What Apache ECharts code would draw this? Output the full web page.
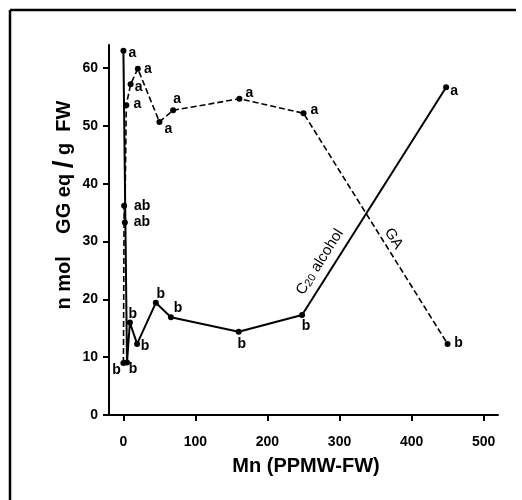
<!DOCTYPE html>
<html>
<head>
<meta charset="utf-8">
<script src="https://cdn.jsdelivr.net/npm/echarts@6/dist/echarts.min.js"></script>
<style>html,body{margin:0;padding:0;background:#fff}#c{width:522px;height:500px}</style>
</head>
<body>
<div id="c"></div>
<script>
// ---- data ----
var gaX = [0, 1, 2, 4, 10, 20, 50, 69, 161, 250, 450];
var gaY = [9.0, 36.2, 33.3, 53.6, 57.2, 59.9, 50.7, 52.7, 54.7, 52.2, 12.3];
var gaLetters = ['b', 'ab', 'ab', 'a', 'a', 'a', 'a', 'a', 'a', 'a', 'b'];

var c20X = [0, 5, 9, 19, 45, 66, 160, 248, 448];
var c20Y = [63.0, 9.1, 16.0, 12.3, 19.4, 16.9, 14.4, 17.3, 56.7];
var c20Letters = ['a', 'b', 'b', 'b', 'b', 'b', 'b', 'b', 'a'];

var xTicks = [0, 100, 200, 300, 400, 500];
var yTicks = [0, 10, 20, 30, 40, 50, 60];

// label offsets (layout only)
var gaLabelOff = [[-7,7],[18,0],[17,0],[11,-1],[8,3],[10,0],[9,7],[4,-11],[10,-6],[11,-3],[11,-1]];
var c20LabelOff = [[9,2],[6,7],[3,-8],[8,2],[5,-9],[7,-9],[3,12],[4,11],[8,4]];

var FONT = '"Liberation Sans", Arial, Helvetica, sans-serif';

function buildData(xs, ys, letters, offs) {
  return xs.map(function (x, i) {
    return {
      value: [x, ys[i]],
      label: { show: true, formatter: letters[i], position: 'inside', offset: offs[i],
               align: 'center', verticalAlign: 'middle' }
    };
  });
}

var chart = echarts.init(document.getElementById('c'), null, { renderer: 'canvas' });

var labelStyle = { color: '#000', fontFamily: FONT, fontWeight: 'bold', fontSize: 14 };

chart.setOption({
  animation: false,
  backgroundColor: '#fff',
  grid: { left: 109, right: 24, top: 45, bottom: 85, containLabel: false },
  xAxis: {
    type: 'value', min: -20, max: 520,
    splitLine: { show: false },
    axisLine: { show: true, onZero: false, lineStyle: { color: '#000', width: 2 } },
    axisTick: { show: true, customValues: xTicks, length: 6, lineStyle: { color: '#000', width: 2 } },
    axisLabel: { customValues: xTicks, margin: 20, color: '#000', fontFamily: FONT, fontWeight: 'bold', fontSize: 14 }
  },
  yAxis: {
    type: 'value', min: 0, max: 64,
    splitLine: { show: false },
    axisLine: { show: true, onZero: false, lineStyle: { color: '#000', width: 2 } },
    axisTick: { show: true, customValues: yTicks, length: 6, lineStyle: { color: '#000', width: 2 } },
    axisLabel: { customValues: yTicks, margin: 11, color: '#000', fontFamily: FONT, fontWeight: 'bold', fontSize: 14 }
  },
  series: [
    {
      name: 'GA', type: 'line',
      data: buildData(gaX, gaY, gaLetters, gaLabelOff),
      symbol: 'circle', symbolSize: 6,
      itemStyle: { color: '#000' },
      lineStyle: { color: '#000', width: 1.6, type: [6, 3] },
      label: labelStyle
    },
    {
      name: 'C20 alcohol', type: 'line',
      data: buildData(c20X, c20Y, c20Letters, c20LabelOff),
      symbol: 'circle', symbolSize: 6,
      itemStyle: { color: '#000' },
      lineStyle: { color: '#000', width: 2 },
      label: labelStyle
    }
  ]
});

// annotations anchored in data space
var c20Anchor = chart.convertToPixel({ gridIndex: 0 }, [271, 26.6]);
var gaAnchor = chart.convertToPixel({ gridIndex: 0 }, [375, 30.5]);

chart.setOption({
  graphic: [
    { type: 'line', shape: { x1: 10, y1: 10, x2: 516, y2: 10 }, style: { stroke: '#000', lineWidth: 2.5 } },
    { type: 'line', shape: { x1: 10, y1: 10, x2: 10, y2: 500 }, style: { stroke: '#000', lineWidth: 2.5 } },
    {
      type: 'text', x: 64, y: 205, rotation: Math.PI / 2,
      style: {
        text: '{a|n mol    GG eq }{s|/}{a| g  FW}',
        align: 'center', verticalAlign: 'middle',
        rich: {
          a: { fontFamily: FONT, fontWeight: 'bold', fontSize: 20, fill: '#000' },
          s: { fontFamily: FONT, fontWeight: 'bold', fontSize: 28, fill: '#000' }
        }
      }
    },
    {
      type: 'text', x: 306, y: 466,
      style: { text: 'Mn (PPMW-FW)', fill: '#000', font: 'bold 20px ' + FONT, align: 'center', verticalAlign: 'middle' }
    },
    {
      type: 'text', x: c20Anchor[0], y: c20Anchor[1], rotation: 57.6 * Math.PI / 180,
      style: {
        text: '{n|C}{sub|20}{n| alcohol}',
        align: 'center', verticalAlign: 'middle',
        rich: {
          n: { fontFamily: FONT, fontSize: 15, fill: '#000', verticalAlign: 'bottom', lineHeight: 18 },
          sub: { fontFamily: FONT, fontSize: 11, fill: '#000', verticalAlign: 'bottom', padding: [6, 0, 0, 0], lineHeight: 18 }
        }
      }
    },
    {
      type: 'text', x: gaAnchor[0], y: gaAnchor[1], rotation: -57.7 * Math.PI / 180,
      style: { text: 'GA', fill: '#000', font: '15px ' + FONT, align: 'center', verticalAlign: 'middle' }
    }
  ]
});
</script>
</body>
</html>
